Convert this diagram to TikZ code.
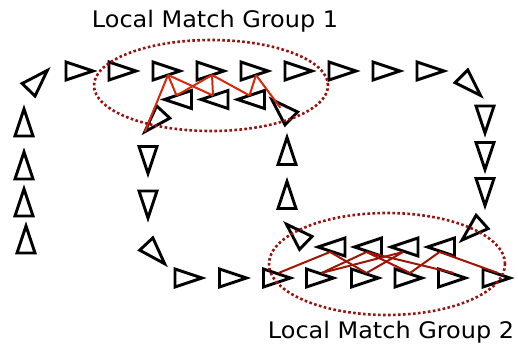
\documentclass[tikz,border=0pt]{standalone}
\usepackage{fontspec}
\newfontfamily\labelfont[FakeStretch=1.05]{DejaVu Sans}
\usetikzlibrary{calc}
\definecolor{dotred}{RGB}{150,20,15}
\definecolor{matchred}{RGB}{215,40,10}
\definecolor{matchdark}{RGB}{160,20,5}
% one minutia: name, x, y, direction
\newcommand\minutie[4]{%
  \node[inner sep=0pt, minimum size=0pt] (#1) at (#2,#3) {};
  \draw[trait, shift={(#2,#3)}, rotate=#4] (12,0) coordinate (#1p) -- (-15,9) -- (-15,-9) -- cycle;}

\begin{document}
\begin{tikzpicture}[x=1pt,y=-1pt]
\tikzset{trait/.style={draw, line width=2.9pt},
  groupe/.style={draw=dotred, line width=2.6pt, dash pattern=on 2.6pt off 2.4pt},
  lienA/.style={draw=matchred, line width=2pt},
  lienB/.style={draw=matchdark, line width=2pt},
  etiquette/.style={font=\labelfont\fontsize{22.8pt}{27pt}\selectfont, inner sep=0pt}}
\useasboundingbox (0,0) rectangle (518,344);
% left column, going up
\minutie{m1}{26}{238}{90}
\minutie{m2}{24}{201}{90}
\minutie{m3}{24}{164}{90}
\minutie{m4}{24}{121}{90}
\minutie{m5}{39}{79}{46}
% top row
\foreach \x [count=\i from 6] in {81,124,168,212,256,300,344,388,432}
  {\minutie{m\i}{\x}{71}{0}}
\minutie{m15}{472}{87}{-45}
% right column, going down
\minutie{m16}{485}{121}{-90}
\minutie{m17}{485}{157.5}{-90}
\minutie{m18}{485}{193.5}{-90}
\minutie{m19}{471}{232}{-138}
% upper row of group 2
\foreach \x [count=\i from 20] in {439.5,403,366.5,330}
  {\minutie{m\i}{\x}{247}{180}}
\minutie{m24}{295}{232.5}{136}
\minutie{m25}{287}{193.5}{90}
\minutie{m26}{287}{149.5}{90}
\minutie{m27}{280.5}{108}{136}
% lower row of group 1
\foreach \x [count=\i from 28] in {249.5,213,176.5}
  {\minutie{m\i}{\x}{99.5}{180}}
\minutie{m31}{153}{123}{-133}
% middle column, going down
\minutie{m32}{148}{161.5}{-90}
\minutie{m33}{148}{206}{-90}
\minutie{m34}{156.5}{255}{-47}
% bottom row
\foreach \x [count=\i from 35] in {190,234.5,278.5,321.5,366.5,410,453.5,498}
  {\minutie{m\i}{\x}{278}{0}}

% matches, group 1
\draw[lienA] (m31p) -- ($(m8)!4pt!(m8|-m30)$);
\foreach \a/\b in {m8/m30, m30/m9, m8/m29, m9/m29, m9/m28, m28/m10}
  \draw[lienA] ($(\a)!4pt!(\a|-\b)$) -- ($(\b)!4pt!(\b|-\a)$);
\draw[lienA] ($(m10)!4pt!(m10|-m28)$) -- (m27);
% matches, group 2
\foreach \a/\b in {m37/m23, m23/m39, m38/m22, m38/m21, m39/m21, m22/m40, m22/m41, m40/m20, m20/m42}
  \draw[lienB] ($(\a)!5pt!(\a|-\b)$) -- ($(\b)!5pt!(\b|-\a)$);

\draw[groupe] (211,85.5) ellipse [x radius=117pt, y radius=45.5pt];
\draw[groupe] (387,264) ellipse [x radius=118pt, y radius=51pt];
\node[etiquette, anchor=base] (titre1) at (215,27.3) {Local Match Group 1};
\node[etiquette, anchor=base] (titre2) at (391,338.3) {Local Match Group 2};
\end{tikzpicture}
\end{document}
